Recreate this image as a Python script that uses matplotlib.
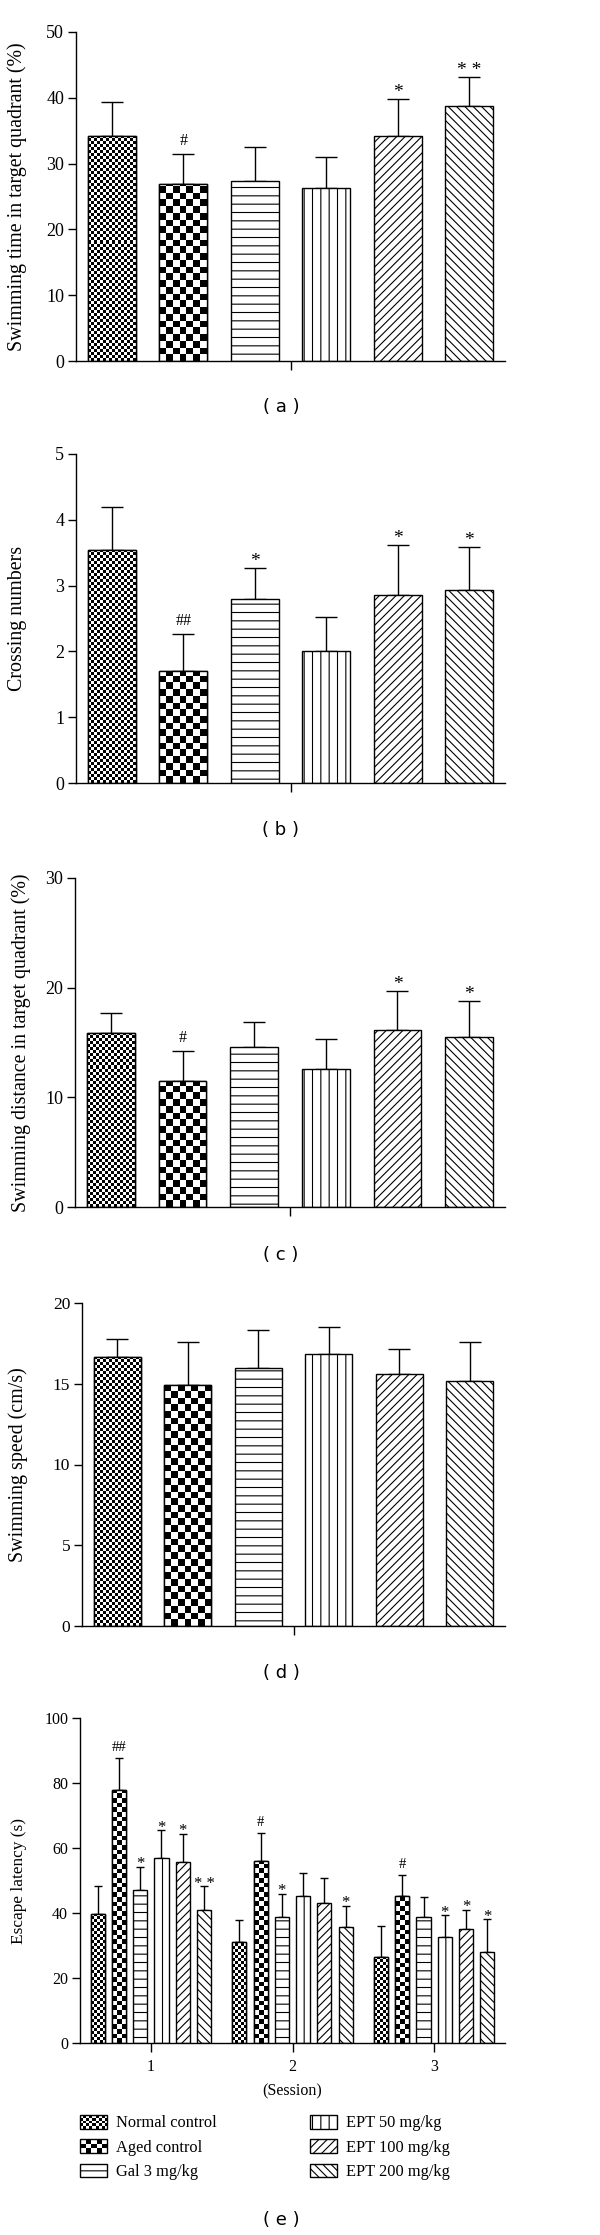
import numpy as np
import matplotlib
matplotlib.use("Agg")
import matplotlib.pyplot as plt
from matplotlib.patches import Rectangle
from matplotlib.legend_handler import HandlerBase
from matplotlib.image import BboxImage
from matplotlib.transforms import Bbox, TransformedBbox

plt.rcParams['font.family'] = ['Liberation Serif', 'DejaVu Serif']
plt.rcParams['hatch.linewidth'] = 0.8
plt.rcParams['hatch.color'] = 'black'

# ---- data ----
groups = ['Normal control', 'Aged control', 'Gal 3 mg/kg',
          'EPT 50 mg/kg', 'EPT 100 mg/kg', 'EPT 200 mg/kg']

time_mean = [34.2, 26.9, 27.3, 26.3, 34.2, 38.8]
time_sd = [5.1, 4.6, 5.2, 4.7, 5.6, 4.3]
time_sig = ['', '#', '', '', '*', '**']

cross_mean = [3.54, 1.70, 2.79, 2.01, 2.85, 2.93]
cross_sd = [0.66, 0.56, 0.47, 0.52, 0.76, 0.65]
cross_sig = ['', '##', '*', '', '*', '*']

dist_mean = [15.9, 11.5, 14.6, 12.6, 16.1, 15.5]
dist_sd = [1.8, 2.7, 2.3, 2.7, 3.6, 3.3]
dist_sig = ['', '#', '', '', '*', '*']

speed_mean = [16.65, 14.94, 15.99, 16.86, 15.6, 15.2]
speed_sd = [1.15, 2.66, 2.31, 1.67, 1.57, 2.36]
speed_sig = ['', '', '', '', '', '']

sessions = [1, 2, 3]
# rows = groups, columns = sessions
lat_mean = [[39.7, 31.1, 26.4],
            [77.9, 56.1, 45.3],
            [47.0, 38.9, 38.7],
            [56.8, 45.2, 32.6],
            [55.7, 43.2, 35.0],
            [40.9, 35.6, 28.1]]
lat_sd = [[8.7, 6.7, 9.5],
          [9.7, 8.4, 6.3],
          [7.3, 7.0, 6.2],
          [8.7, 7.2, 6.7],
          [8.6, 7.5, 5.9],
          [7.3, 6.7, 10.0]]
lat_sig = [['', '', ''],
           ['##', '#', '#'],
           ['*', '*', ''],
           ['*', '', '*'],
           ['*', '', '*'],
           ['**', '*', '*']]

# first two groups get a checkerboard, the rest a hatch
hatches = [None, None, '--', '||', '////', '\\\\\\\\']

W, H = 600, 2235
fig = plt.figure(figsize=(W / 100, H / 100), dpi=100)


def px_axes(left, top, right, bottom):
    return fig.add_axes([left / W, 1 - bottom / H, (right - left) / W, (bottom - top) / H])


def style_axes(ax, ylim, yticks, ylabel, label_x, tsize, lsize):
    ax.set_ylim(*ylim)
    ax.set_yticks(yticks)
    for s in ['top', 'right']:
        ax.spines[s].set_visible(False)
    for s in ['left', 'bottom']:
        ax.spines[s].set_linewidth(1.0)
    ax.tick_params(direction='out', length=5.5, width=1.0, labelsize=tsize, pad=3)
    ax.set_ylabel(ylabel, fontsize=lsize)
    bb = ax.get_position()
    ax.yaxis.set_label_coords((label_x / W - bb.x0) / bb.width, 0.5)


def checker(ax, bar, cell_px):
    x0, y0 = ax.transData.transform((bar.get_x(), 0))
    x1, y1 = ax.transData.transform((bar.get_x() + bar.get_width(), bar.get_height()))
    nx = max(1, int(round((x1 - x0) / cell_px)))
    ny = int(np.ceil((y1 - y0) / cell_px))
    dy = bar.get_height() / (y1 - y0)
    arr = np.add.outer(np.arange(ny), np.arange(nx)) % 2
    im = ax.imshow(arr, cmap='gray_r', vmin=0, vmax=1, interpolation='nearest',
                   origin='lower', aspect='auto', zorder=2.5,
                   extent=(bar.get_x(), bar.get_x() + bar.get_width(), 0, ny * cell_px * dy))
    im.set_clip_path(bar)
    ax.add_patch(Rectangle(bar.get_xy(), bar.get_width(), bar.get_height(),
                           fill=False, ec='black', lw=1.0, zorder=3))


def mark(ax, x, y, s, star_size, hash_size, star_off, hash_off):
    if not s:
        return
    if '*' in s:
        ax.annotate(s.replace('**', '* *'), (x, y), xytext=(0, star_off),
                    textcoords='offset points', ha='center', va='baseline',
                    fontsize=star_size)
    else:
        ax.annotate(s, (x, y), xytext=(0, hash_off), textcoords='offset points',
                    ha='center', va='baseline', fontsize=hash_size)


def draw_bars(ax, xs, vals, errs, width, gi, cells, capsize, sigs, msize):
    bars = ax.bar(xs, vals, width, color='white', edgecolor='black', linewidth=1.0,
                  hatch=hatches[gi], zorder=2)
    ax.errorbar(xs, vals, yerr=[np.zeros(len(vals)), errs], fmt='none', ecolor='black',
                elinewidth=1.0, capsize=capsize, capthick=1.0, zorder=1)
    if gi in cells:
        for b in bars:
            checker(ax, b, cells[gi])
    for x, v, e, s in zip(xs, vals, errs, sigs):
        mark(ax, x, v + e, s, *msize)


def single_panel(box, mean, sd, sig, ylim, yticks, ylabel, label_x, tag, tag_y, tsize=13):
    ax = px_axes(*box)
    ax.set_xlim(-0.5, 5.5)
    style_axes(ax, ylim, yticks, ylabel, label_x, tsize, 14.4)
    ax.set_xticks([2.5])
    ax.set_xticklabels([''])
    ax.tick_params(axis='x', length=6.5)
    cells = {0: 3.0, 1: 6.7}
    for gi in range(len(groups)):
        draw_bars(ax, [gi], [mean[gi]], [sd[gi]], 0.667, gi, cells, 8, [sig[gi]],
                  (14, 11.5, 1.5, 6.5))
    ax.set_xlim(-0.5, 5.5)
    ax.set_ylim(*ylim)
    fig.text(281 / W, 1 - tag_y / H, '( %s )' % tag, ha='center', va='center',
             fontsize=13, family='DejaVu Sans')
    return ax


single_panel((76, 32, 505, 361), time_mean, time_sd, time_sig, (0, 50), range(0, 51, 10),
             'Swimming time in target quadrant (%)', 27, 'a', 407)
single_panel((76, 454, 505, 783), cross_mean, cross_sd, cross_sig, (0, 5), range(0, 6),
             'Crossing numbers', 27, 'b', 830)
single_panel((75, 878, 505, 1207), dist_mean, dist_sd, dist_sig, (0, 30), range(0, 31, 10),
             'Swimming distance in target quadrant (%)', 31, 'c', 1255)
single_panel((82, 1303, 505, 1626), speed_mean, speed_sd, speed_sig, (0, 20), range(0, 21, 5),
             'Swimming speed (cm/s)', 28, 'd', 1673, tsize=12.5)

# ---- panel e: escape latency by session ----
ax = px_axes(80, 1718, 505, 2043)
ax.set_xlim(0.5, 3.5)
style_axes(ax, (0, 100), range(0, 101, 20), 'Escape latency (s)', 27, 11.5, 12.4)
ax.set_xticks(sessions)
ax.tick_params(axis='x', length=6.5, pad=5)
ax.set_xlabel('(Session)', fontsize=11.5, labelpad=6)
step, bw = 0.15, 0.10
cells_e = {0: 3.0, 1: 4.7}
for gi in range(len(groups)):
    xs = np.array(sessions) + (gi - 2.5) * step
    draw_bars(ax, xs, lat_mean[gi], lat_sd[gi], bw, gi, cells_e, 3, lat_sig[gi],
              (12, 10.5, -1, 5.5))
ax.set_xlim(0.5, 3.5)
ax.set_ylim(0, 100)
fig.text(281 / W, 1 - 2220 / H, '( e )', ha='center', va='center',
         fontsize=13, family='DejaVu Sans')


# ---- legend ----
class CheckerHandler(HandlerBase):
    def __init__(self, nx, ny):
        super().__init__()
        self.nx, self.ny = nx, ny

    def create_artists(self, legend, orig_handle, xdescent, ydescent, width, height,
                       fontsize, trans):
        bb = TransformedBbox(Bbox.from_bounds(-xdescent, -ydescent, width, height), trans)
        img = BboxImage(bb, cmap='gray_r', norm=plt.Normalize(0, 1), interpolation='nearest')
        img.set_data(np.add.outer(np.arange(self.ny), np.arange(self.nx)) % 2)
        edge = Rectangle((-xdescent, -ydescent), width, height, fill=False,
                         ec='black', lw=1.0, transform=trans)
        return [img, edge]


handles = [Rectangle((0, 0), 1, 1, facecolor='white', edgecolor='black', lw=1.0,
                     hatch=hatches[gi]) for gi in range(len(groups))]
hmap = {handles[0]: CheckerHandler(9, 5), handles[1]: CheckerHandler(5, 3)}
leg_kw = dict(frameon=False, fontsize=11.8, handlelength=1.65, handleheight=0.9,
              handletextpad=0.55, labelspacing=0.48, borderpad=0, borderaxespad=0,
              handler_map=hmap, loc='upper left')
fig.legend(handles[:3], groups[:3], bbox_to_anchor=(80 / W, 1 - 2115 / H), **leg_kw)
fig.legend(handles[3:], groups[3:], bbox_to_anchor=(310 / W, 1 - 2115 / H), **leg_kw)

fig.savefig('out.png', dpi=100)
